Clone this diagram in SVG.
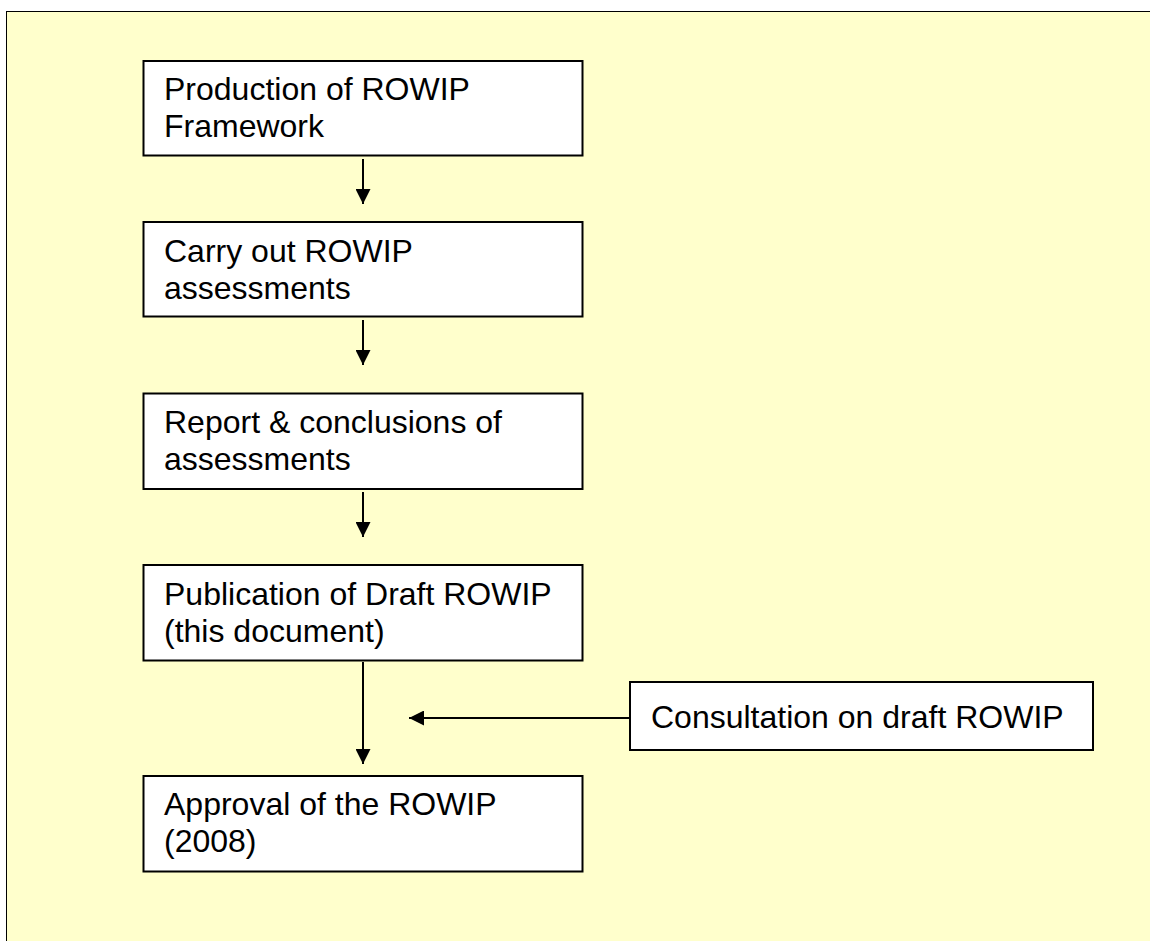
<svg xmlns="http://www.w3.org/2000/svg" width="1150" height="941" viewBox="0 0 1150 941">
<style>
.box{fill:#ffffff;stroke:#000000;stroke-width:2}
.t{font-family:"Liberation Sans",Arial,sans-serif;font-size:32px;fill:#000000}
.c{stroke:#000000;stroke-width:2;fill:none}
</style>
<defs>
<marker id="ah" viewBox="0 0 15 15" refX="15" refY="7.5" markerWidth="15" markerHeight="15" markerUnits="userSpaceOnUse" orient="auto">
<path d="M0,0 L15,7.5 L0,15 Z" fill="#000000"/>
</marker>
</defs>
<rect x="6.5" y="11.5" width="1150" height="940" fill="#ffffcc" stroke="#000000" stroke-width="1"/>
<g id="connectors">
<line class="c" x1="363" y1="159" x2="363" y2="204" marker-end="url(#ah)"/>
<line class="c" x1="363" y1="320" x2="363" y2="365" marker-end="url(#ah)"/>
<line class="c" x1="363" y1="492" x2="363" y2="537" marker-end="url(#ah)"/>
<line class="c" x1="363" y1="662" x2="363" y2="764" marker-end="url(#ah)"/>
<line class="c" x1="630" y1="718" x2="409" y2="718" marker-end="url(#ah)"/>
</g>
<g id="n1">
<rect class="box" x="143.5" y="61" width="439" height="94.5"/>
<text class="t" x="164" y="100">Production of ROWIP</text>
<text class="t" x="164" y="137">Framework</text>
</g>
<g id="n2">
<rect class="box" x="143.5" y="222" width="439" height="94.5"/>
<text class="t" x="164" y="261.5">Carry out ROWIP</text>
<text class="t" x="164" y="298.5">assessments</text>
</g>
<g id="n3">
<rect class="box" x="143.5" y="393.5" width="439" height="95.5"/>
<text class="t" x="164" y="433">Report &amp; conclusions of</text>
<text class="t" x="164" y="470">assessments</text>
</g>
<g id="n4">
<rect class="box" x="143.5" y="565" width="439" height="95.5"/>
<text class="t" x="164" y="604.5">Publication of Draft ROWIP</text>
<text class="t" x="164" y="641.5">(this document)</text>
</g>
<g id="n5">
<rect class="box" x="143.5" y="776" width="439" height="95.5"/>
<text class="t" x="164" y="815">Approval of the ROWIP</text>
<text class="t" x="164" y="852">(2008)</text>
</g>
<g id="n6">
<rect class="box" x="630" y="682" width="463" height="68"/>
<text class="t" x="651" y="728">Consultation on draft ROWIP</text>
</g>
</svg>
